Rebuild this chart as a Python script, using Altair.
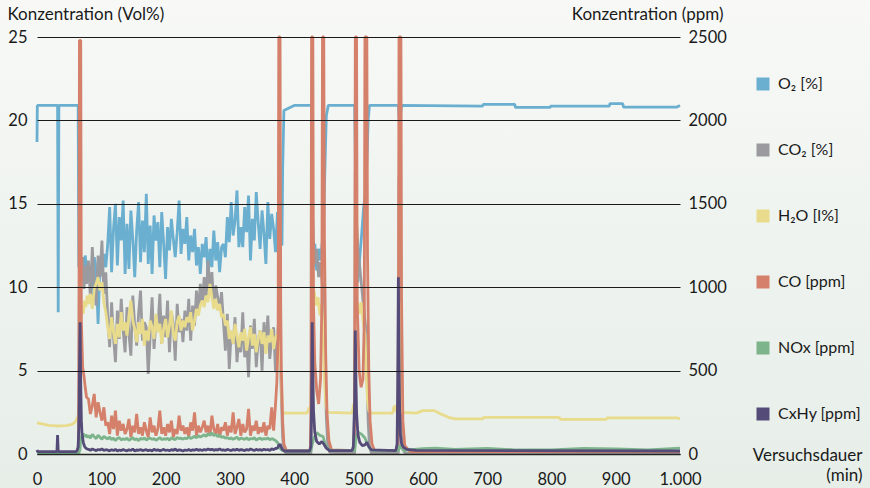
import altair as alt
import pandas as pd

SERIES = ["O₂ [%]", "CO₂ [%]", "H₂O [l%]", "CO [ppm]", "NOx [ppm]", "CxHy [ppm]"]
COLORS = ["#6aafd0", "#9b9b9f", "#e8dc8c", "#d4806a", "#7db48c", "#554b78"]

X_TICKS = [0, 100, 200, 300, 400, 500, 600, 700, 800, 900, 1000]
VOL_TICKS = [0, 5, 10, 15, 20, 25]
PPM_TICKS = [0, 500, 1000, 1500, 2000, 2500]

# sampling times (min) of the noisy combustion phase
NOISY_T = list(range(80, 374, 3))

# ---------------- O2 [Vol%] ----------------
O2_HEAD = [(0, 18.7), (0.5, 20.9), (32, 20.9), (33, 8.5), (34, 20.9), (64, 20.9),
           (65, 11.2), (67, 11.8), (69, 10.9), (71, 11.6), (73, 10.6), (75, 11.9), (77, 11.1)]
O2_NOISY = [11.4, 10.6, 9.4, 11.8, 11.0, 7.8, 11.5, 10.7, 12.0, 11.2,
            12.6, 14.8, 10.9, 13.5, 15.0, 11.3, 14.2, 12.8, 15.2, 10.8,
            13.8, 11.1, 14.6, 12.9, 10.6, 13.4, 15.1, 11.5, 14.0, 12.1,
            15.6, 11.4, 13.7, 10.8, 14.3, 12.8, 13.9, 11.2, 14.5, 12.6,
            10.5, 13.6, 12.2, 14.1, 12.9, 11.8, 13.3, 15.2, 12.0, 13.5,
            12.6, 14.2, 11.6, 13.1, 12.1, 13.5, 11.3, 12.4, 10.8, 12.6,
            11.8, 13.0, 10.6, 12.3, 11.2, 13.4, 11.6, 12.7, 10.9, 12.4,
            12.6, 11.8, 14.2, 12.7, 15.1, 13.1, 14.0, 15.8, 12.4, 13.6,
            12.4, 14.8, 13.3, 15.5, 11.6, 14.1, 12.8, 15.7, 13.9, 12.3,
            14.6, 13.2, 11.4, 15.1, 12.9, 14.4, 13.5, 12.1]
O2_TAIL = [(374, 14.5), (376, 12.3), (377, 15.5), (379, 13.0), (381, 12.5), (382, 17.0),
           (384, 20.6), (400, 20.9), (427, 20.9), (428, 13.5), (430, 11.2), (432, 12.6),
           (435, 11.0), (438, 12.3), (441, 11.6), (444, 12.8), (446, 14.5), (448, 17.5),
           (450, 20.3), (453, 20.9), (494, 20.9), (495, 18.0), (496, 10.8), (499, 10.3),
           (502, 11.8), (505, 13.2), (508, 14.8), (511, 15.6), (513, 17.5), (515, 20.0),
           (517, 20.9), (562, 20.9), (564, 19.6), (565, 20.2), (567, 20.9), (693, 20.86),
           (694, 20.96), (743, 20.96), (744, 20.78), (798, 20.78), (799, 20.86),
           (890, 20.86), (891, 21.0), (911, 21.0), (912, 20.8), (995, 20.8), (1000, 20.9)]

# ---------------- CO2 [Vol%] ----------------
CO2_HEAD = [(0, 0.05), (64, 0.05), (65, 2.0), (66, 11.0), (67, 12.0), (69, 10.6),
            (71, 11.8), (73, 9.9), (75, 11.3), (77, 10.2)]
CO2_NOISY = [11.6, 9.4, 12.4, 10.1, 8.9, 11.9, 10.6, 12.8, 9.6, 10.9,
             8.2, 6.4, 9.1, 7.0, 5.5, 8.6, 6.9, 9.3, 7.4, 6.1,
             8.8, 7.2, 5.9, 9.5, 7.7, 6.5, 8.4, 9.8, 6.8, 7.9,
             7.6, 4.8, 7.1, 9.4, 6.3, 8.0, 7.5, 9.6, 6.6, 8.3,
             7.0, 9.2, 6.1, 8.5, 7.8, 5.6, 9.0, 7.3, 8.1, 6.7,
             8.6, 7.4, 9.3, 6.8, 8.9, 7.7, 9.8, 8.4, 10.2, 9.0,
             10.6, 9.2, 11.6, 9.8, 10.9, 8.8, 10.1, 9.4, 8.6, 9.7,
             7.9, 6.2, 8.4, 5.1, 7.3, 6.6, 8.2, 5.5, 7.0, 6.1,
             8.5, 5.8, 6.9, 4.6, 7.7, 6.3, 8.1, 5.2, 6.8, 7.4,
             5.0, 7.9, 6.4, 8.3, 5.7, 6.9, 7.6, 4.9]
CO2_TAIL = [(374, 6.8), (376, 8.2), (378, 6.5), (380, 3.5), (382, 1.0), (384, 0.3),
            (387, 0.05), (426, 0.05), (427, 6.0), (428, 14.8), (430, 12.8), (432, 11.4),
            (435, 12.3), (438, 10.6), (441, 11.5), (444, 10.1), (446, 9.0), (448, 5.5),
            (450, 2.2), (452, 0.7), (455, 0.1), (494, 0.05), (495, 17.0), (496, 14.6),
            (499, 12.4), (502, 11.2), (505, 10.0), (508, 8.8), (511, 7.6), (513, 5.0),
            (515, 2.0), (517, 0.5), (520, 0.05), (562, 0.05), (563, 16.6), (565, 9.0),
            (567, 2.5), (569, 0.4), (572, 0.05), (1000, 0.05)]

# ---------------- H2O [Vol%] ----------------
H2O_HEAD = [(0, 1.86), (8, 1.8), (18, 1.72), (30, 1.68), (45, 1.7), (55, 1.78), (60, 1.95),
            (63, 2.2), (65, 2.4), (66, 5.0), (67, 8.0), (68, 8.6), (70, 8.9), (72, 8.4),
            (74, 9.2), (76, 8.8), (78, 9.5)]
H2O_NOISY = [9.0, 9.6, 8.7, 9.9, 10.2, 10.6, 9.8, 10.3, 9.1, 8.5,
             7.6, 6.9, 8.2, 7.3, 6.6, 7.8, 7.0, 8.5, 7.4, 7.9,
             7.1, 8.3, 9.2, 8.0, 7.5, 6.7, 7.9, 7.2, 8.1, 6.5,
             7.4, 6.8, 8.0, 7.6, 6.9, 8.4, 7.3, 7.8, 6.6, 7.5,
             8.1, 7.0, 7.7, 8.6, 7.2, 6.8, 7.9, 8.3, 7.4, 8.0,
             7.6, 8.2, 7.9, 8.5, 7.4, 8.0, 8.7, 8.3, 8.9, 9.2,
             8.8, 9.5, 9.1, 10.2, 9.4, 8.7, 9.3, 8.6, 9.0, 8.2,
             8.4, 7.7, 8.0, 6.9, 7.4, 6.6, 7.8, 7.1, 6.4, 7.3,
             6.8, 7.5, 6.2, 7.0, 7.6, 6.5, 7.2, 6.1, 6.9, 7.4,
             6.6, 7.3, 6.0, 7.1, 6.7, 7.5, 6.3, 7.0]
H2O_TAIL = [(374, 7.2), (376, 6.6), (378, 6.2), (380, 4.5), (381, 3.2), (382, 2.6),
            (384, 2.45), (420, 2.45), (423, 2.75), (426, 2.8), (428, 7.0), (429, 9.6),
            (431, 9.8), (434, 8.9), (437, 9.4), (440, 8.3), (443, 9.0), (445, 7.0),
            (447, 4.5), (449, 3.0), (452, 2.5), (490, 2.45), (492, 2.9), (494, 3.0),
            (495, 8.8), (496, 9.4), (498, 9.0), (501, 8.4), (504, 9.1), (507, 8.0),
            (510, 7.2), (512, 5.0), (514, 3.2), (516, 2.6), (520, 2.45), (553, 2.45),
            (555, 2.8), (557, 2.9), (559, 2.5), (562, 2.8), (564, 9.1), (565, 6.0),
            (566, 3.0), (568, 2.5), (590, 2.45), (600, 2.6), (618, 2.6), (628, 2.4),
            (640, 2.2), (650, 2.1), (693, 2.1), (695, 2.2), (812, 2.2), (814, 2.08),
            (885, 2.08), (887, 2.17), (995, 2.17), (1000, 2.1)]

# ---------------- CO [ppm] ----------------
CO_HEAD = [(0, 5), (64, 5), (65, 150), (66, 2480), (68, 2480), (69, 800), (71, 520),
           (73, 470), (75, 400), (77, 340)]
CO_NOISY = [330, 240, 290, 360, 220, 310, 250, 200, 280, 170,
            190, 120, 230, 150, 260, 110, 200, 140, 180, 120,
            150, 210, 100, 170, 130, 240, 120, 160, 110, 190,
            140, 100, 220, 130, 170, 110, 150, 260, 120, 160,
            110, 180, 130, 200, 100, 150, 120, 230, 140, 170,
            120, 160, 100, 190, 140, 250, 110, 170, 130, 160,
            200, 130, 170, 110, 230, 150, 120, 180, 100, 160,
            140, 190, 110, 170, 130, 250, 120, 160, 210, 110,
            180, 130, 150, 270, 110, 170, 140, 200, 120, 160,
            130, 190, 110, 170, 150, 280, 140, 300]
CO_TAIL = [(373, 430), (375, 700), (376, 2500), (378, 2500), (379, 900), (380, 500),
           (382, 200), (384, 60), (388, 20), (425, 20), (426, 200), (427, 2500), (429, 2500),
           (430, 900), (432, 550), (435, 380), (438, 300), (441, 450), (443, 900),
           (444, 2500), (446, 2500), (447, 1300), (449, 600), (451, 250), (454, 80),
           (458, 25), (493, 20), (494, 300), (495, 2500), (497, 2500), (498, 900),
           (501, 500), (504, 400), (507, 450), (509, 800), (510, 2500), (513, 2500),
           (514, 1200), (516, 500), (518, 200), (521, 60), (525, 20), (561, 20), (562, 600),
           (563, 2500), (566, 2500), (567, 900), (569, 200), (572, 50), (580, 15), (1000, 15)]

# ---------------- NOx [ppm] ----------------
NOX_HEAD = [(0, 3), (65, 3), (67, 30), (68, 90), (70, 112), (72, 122), (74, 104),
            (76, 116), (78, 100)]
NOX_NOISY = [110, 95, 118, 104, 92, 112, 100, 88, 106, 97,
             90, 102, 85, 96, 80, 93, 99, 84, 91, 87,
             95, 82, 90, 98, 86, 92, 80, 94, 88, 97,
             84, 91, 96, 87, 93, 82, 90, 99, 86, 92,
             88, 95, 83, 97, 90, 86, 100, 92, 95, 89,
             96, 91, 104, 93, 99, 106, 97, 110, 102, 108,
             115, 106, 122, 112, 128, 110, 118, 105, 113, 100,
             104, 95, 99, 90, 97, 88, 94, 101, 86, 95,
             92, 88, 97, 85, 93, 90, 98, 84, 91, 95,
             87, 93, 89, 96, 85, 92, 88, 80]
NOX_TAIL = [(374, 70), (377, 40), (380, 25), (384, 18), (426, 18), (428, 60), (431, 100),
            (435, 128), (440, 112), (445, 105), (448, 60), (452, 30), (460, 20), (494, 20),
            (496, 90), (500, 130), (505, 118), (510, 96), (514, 60), (518, 30), (525, 20),
            (562, 20), (564, 50), (567, 35), (570, 22), (600, 32), (620, 35), (650, 28),
            (700, 33), (740, 26), (800, 24), (850, 34), (900, 30), (950, 25), (1000, 35)]

# ---------------- CxHy [ppm] ----------------
CXHY_HEAD = [(0, 24), (1, 14), (31, 14), (32, 114), (33, 14), (60, 14), (62, 18), (64, 40),
             (65, 150), (66, 480), (67, 790), (68, 420), (69, 200), (70, 120), (72, 70),
             (74, 45), (76, 35), (78, 30)]
CXHY_NOISY = [28, 22, 30, 25, 20, 27, 24, 31, 21, 26,
              23, 19, 26, 21, 28, 18, 24, 20, 27, 22,
              19, 25, 21, 30, 18, 24, 22, 27, 20, 23,
              26, 20, 24, 18, 29, 22, 25, 19, 23, 28,
              21, 24, 19, 26, 22, 30, 20, 25, 23, 18,
              24, 21, 27, 20, 25, 23, 29, 22, 26, 21,
              27, 23, 30, 25, 28, 22, 26, 24, 31, 23,
              25, 21, 28, 24, 20, 27, 23, 29, 22, 26,
              24, 20, 27, 22, 30, 25, 21, 28, 23, 26,
              22, 29, 24, 27, 21, 31, 26, 33]
CXHY_TAIL = [(374, 35), (376, 50), (378, 60), (380, 40), (382, 25), (385, 18), (424, 18),
             (426, 45), (427, 300), (428, 790), (429, 500), (430, 260), (432, 130), (435, 75),
             (439, 60), (443, 75), (446, 60), (450, 35), (455, 20), (490, 20), (492, 45),
             (494, 320), (495, 740), (496, 450), (497, 250), (499, 120), (502, 70), (506, 50),
             (510, 55), (513, 70), (516, 45), (520, 25), (558, 20), (560, 60), (561, 420),
             (562, 1060), (563, 600), (564, 260), (565, 120), (567, 60), (570, 40), (575, 28),
             (590, 22), (1000, 18)]


def build(head, noisy, tail, name):
    t = [p[0] for p in head] + NOISY_T + [p[0] for p in tail]
    v = [p[1] for p in head] + list(noisy) + [p[1] for p in tail]
    return pd.DataFrame({"t": t, "v": v, "series": name})


FONT = "Lato"
TXT = "#1a1a1a"

x_enc = alt.X(
    "t:Q",
    scale=alt.Scale(domain=[0, 1000], nice=False),
    axis=alt.Axis(
        values=X_TICKS, format="d",
        labelExpr="datum.value == 1000 ? '1.000' : datum.label",
        grid=False, ticks=False, domain=True, domainColor="#222", domainWidth=1.5,
        labelFont=FONT, labelFontSize=16.5, labelColor=TXT, labelPadding=17,
        labelFlush=False, zindex=1,
        title=["Versuchsdauer", "(min)"], titleFont=FONT, titleFontSize=17,
        titleFontWeight="normal", titleColor=TXT, titleAlign="right", titleAngle=0,
        titleBaseline="top", titleX=825, titleY=-7, titleLineHeight=20,
    ),
)

y_vol = alt.Y(
    "v:Q",
    scale=alt.Scale(domain=[0, 25], nice=False),
    axis=alt.Axis(
        values=VOL_TICKS, grid=True, gridColor="#1a1a1a", gridWidth=1,
        ticks=False, domain=False, zindex=1,
        labelFont=FONT, labelFontSize=16.5, labelColor=TXT, labelPadding=10,
        title="Konzentration (Vol%)", titleFont=FONT, titleFontSize=17,
        titleFontWeight="normal", titleColor=TXT, titleAngle=0, titleAlign="left",
        titleBaseline="alphabetic", titleX=-30, titleY=-18,
    ),
)

y_ppm = alt.Y(
    "v:Q",
    scale=alt.Scale(domain=[0, 2500], nice=False),
    axis=alt.Axis(
        orient="right", values=PPM_TICKS, format="d", grid=False,
        ticks=False, domain=False, zindex=1,
        labelFont=FONT, labelFontSize=16.5, labelColor=TXT, labelPadding=8,
        title="Konzentration (ppm)", titleFont=FONT, titleFontSize=17,
        titleFontWeight="normal", titleColor=TXT, titleAngle=0, titleAlign="right",
        titleBaseline="alphabetic", titleX=43, titleY=-18,
    ),
)

color_enc = alt.Color(
    "series:N",
    scale=alt.Scale(domain=SERIES, range=COLORS),
    legend=alt.Legend(
        title=None, orient="none", legendX=718, legendY=39, direction="vertical",
        symbolType="square", symbolSize=36, symbolStrokeWidth=7,
        labelFont=FONT, labelFontSize=16, labelColor=TXT, labelOffset=7,
        rowPadding=32, padding=0, zindex=1,
    ),
)


def line(df, yenc):
    return alt.Chart(df).mark_line(strokeWidth=2.8, strokeJoin="bevel").encode(
        x=x_enc, y=yenc, color=color_enc
    )


df_o2 = build(O2_HEAD, O2_NOISY, O2_TAIL, SERIES[0])
df_co2 = build(CO2_HEAD, CO2_NOISY, CO2_TAIL, SERIES[1])
df_h2o = build(H2O_HEAD, H2O_NOISY, H2O_TAIL, SERIES[2])
df_co = build(CO_HEAD, CO_NOISY, CO_TAIL, SERIES[3])
df_nox = build(NOX_HEAD, NOX_NOISY, NOX_TAIL, SERIES[4])
df_cxhy = build(CXHY_HEAD, CXHY_NOISY, CXHY_TAIL, SERIES[5])

bg = alt.Chart(pd.DataFrame({"k": [0]})).mark_rect(
    color=alt.Gradient(
        gradient="linear",
        stops=[alt.GradientStop(color="#f8f9f7", offset=0),
               alt.GradientStop(color="#eef3ef", offset=0.5),
               alt.GradientStop(color="#e7eee8", offset=1)],
        x1=0, x2=0, y1=0, y2=1,
    )
).encode(x=alt.value(-37), x2=alt.value(833), y=alt.value(-37), y2=alt.value(451))

vol = alt.layer(line(df_o2, y_vol), line(df_co2, y_vol), line(df_h2o, y_vol))
ppm = alt.layer(line(df_co, y_ppm), line(df_nox, y_ppm), line(df_cxhy, y_ppm))

chart = (
    alt.layer(bg, vol, ppm)
    .resolve_scale(y="independent")
    .properties(
        width=643, height=417, autosize="none",
        padding={"left": 37, "top": 37, "right": 190, "bottom": 34},
        background="#eef3ef",
    )
    .configure_view(stroke=None)
)

chart.save("out.html", embed_options={"renderer": "svg", "actions": False})
